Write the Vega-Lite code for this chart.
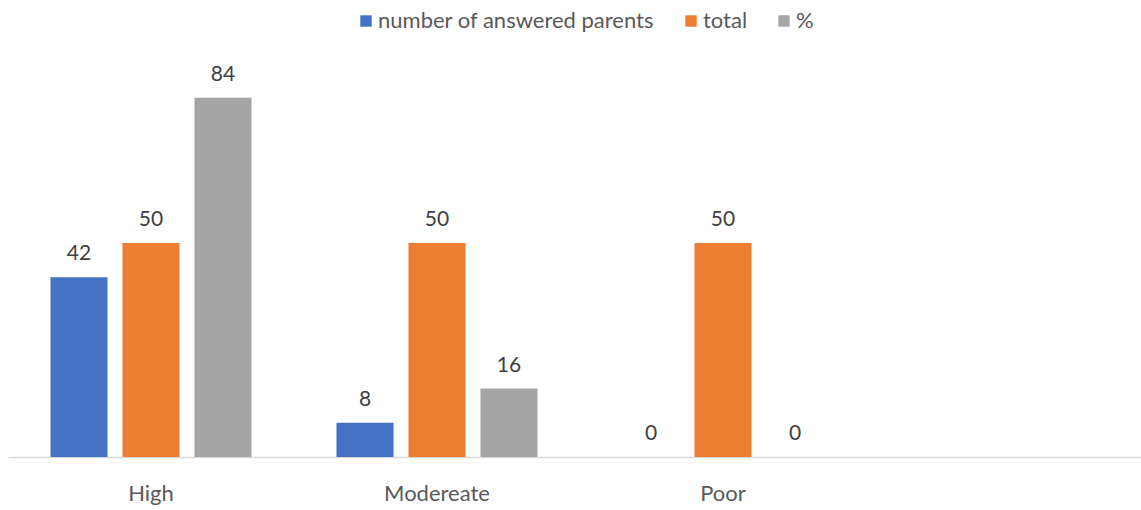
{
  "$schema": "https://vega.github.io/schema/vega-lite/v6.json",
  "width": 1133,
  "height": 385,
  "autosize": {"type": "none"},
  "padding": {"left": 8, "top": 72, "right": 0, "bottom": 53},
  "background": "white",
  "config": {
    "view": {"stroke": null},
    "font": "Lato",
    "text": {"font": "Lato"}
  },
  "data": {
    "values": [
      {"level": "High", "series": "number of answered parents", "value": 42},
      {"level": "High", "series": "total", "value": 50},
      {"level": "High", "series": "%", "value": 84},
      {"level": "Modereate", "series": "number of answered parents", "value": 8},
      {"level": "Modereate", "series": "total", "value": 50},
      {"level": "Modereate", "series": "%", "value": 16},
      {"level": "Poor", "series": "number of answered parents", "value": 0},
      {"level": "Poor", "series": "total", "value": 50},
      {"level": "Poor", "series": "%", "value": 0}
    ]
  },
  "encoding": {
    "x": {
      "field": "level",
      "type": "nominal",
      "sort": null,
      "scale": {"domain": ["High", "Modereate", "Poor", " "], "range": [0, 1144], "paddingInner": 0, "paddingOuter": 0},
      "axis": {
        "title": null,
        "labelAngle": 0,
        "ticks": false,
        "domainColor": "#d9d9d9",
        "domainWidth": 1.5,
        "labelFont": "Lato",
        "labelFontSize": 22,
        "labelColor": "#595959",
        "labelPadding": 26
      }
    },
    "xOffset": {
      "field": "series",
      "type": "nominal",
      "sort": ["number of answered parents", "total", "%"],
      "scale": {"domain": ["number of answered parents", "total", "%"], "paddingInner": 0.208, "paddingOuter": 0.59}
    },
    "y": {
      "field": "value",
      "type": "quantitative",
      "scale": {"domain": [0, 90]},
      "axis": null
    }
  },
  "layer": [
    {
      "mark": {"type": "bar"},
      "encoding": {
        "color": {
          "field": "series",
          "type": "nominal",
          "sort": ["number of answered parents", "total", "%"],
          "scale": {"domain": ["number of answered parents", "total", "%"], "range": ["#4472C4", "#ED7D31", "#A5A5A5"]},
          "legend": {
            "title": null,
            "orient": "none",
            "legendX": 347,
            "legendY": -62,
            "direction": "horizontal",
            "symbolType": "square",
            "symbolSize": 130,
            "symbolStrokeWidth": 0,
            "labelFont": "Lato",
            "labelFontSize": 22,
            "labelColor": "#595959",
            "labelOffset": 1,
            "columnPadding": 25,
            "labelLimit": 400
          }
        }
      }
    },
    {
      "mark": {"type": "text", "baseline": "alphabetic", "dy": -17, "fontSize": 21, "color": "#404040", "font": "Lato"},
      "encoding": {
        "text": {"field": "value", "type": "quantitative"}
      }
    }
  ]
}
